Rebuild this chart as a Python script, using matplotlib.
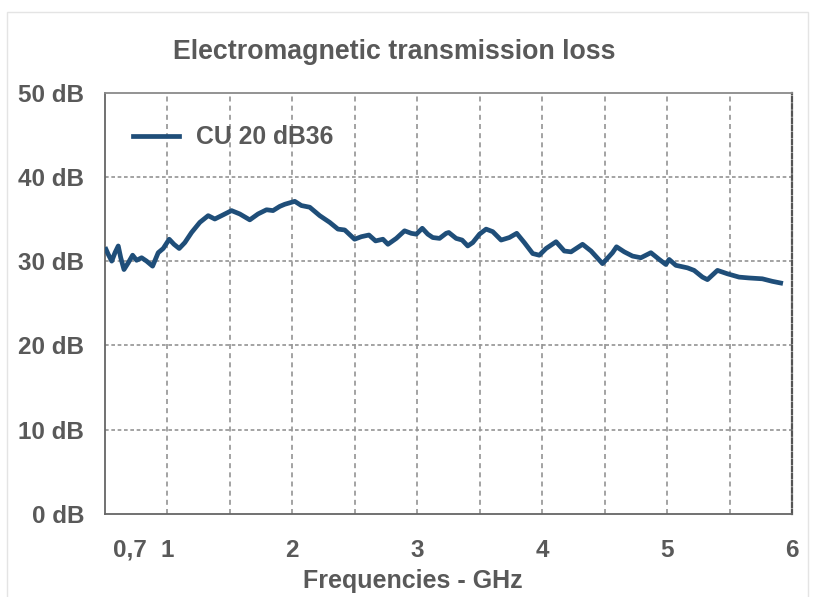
import matplotlib.pyplot as plt
from matplotlib.patches import Rectangle

# ============================================================
# DADOS
# ============================================================

freq_ghz = [0.508, 0.526, 0.554, 0.580, 0.606, 0.626, 0.652, 0.686, 0.721, 0.753,
            0.793, 0.833, 0.881, 0.926, 0.966, 1.014, 1.052, 1.094, 1.139, 1.193,
            1.259, 1.326, 1.379, 1.433, 1.513, 1.579, 1.659, 1.725, 1.793, 1.845,
            1.899, 1.939, 2.019, 2.072, 2.139, 2.219, 2.299, 2.365, 2.419, 2.498,
            2.552, 2.613, 2.666, 2.725, 2.765, 2.832, 2.898, 2.952, 2.992, 3.040,
            3.084, 3.124, 3.178, 3.231, 3.252, 3.311, 3.359, 3.404, 3.444, 3.498,
            3.551, 3.604, 3.671, 3.737, 3.796, 3.857, 3.924, 3.977, 4.031, 4.111,
            4.177, 4.231, 4.323, 4.391, 4.483, 4.563, 4.595, 4.657, 4.723, 4.790,
            4.870, 4.937, 4.990, 5.016, 5.070, 5.163, 5.216, 5.283, 5.323, 5.403,
            5.482, 5.576, 5.655, 5.762, 5.842, 5.909]

perda_db = [31.4, 30.8, 30.0, 31.0, 31.8, 30.4, 29.0, 29.8, 30.7, 30.1,
            30.4, 30.0, 29.4, 31.0, 31.5, 32.6, 32.0, 31.5, 32.2, 33.4,
            34.6, 35.4, 35.0, 35.4, 36.0, 35.6, 34.9, 35.6, 36.1, 36.0,
            36.5, 36.75, 37.1, 36.6, 36.4, 35.4, 34.6, 33.8, 33.7, 32.6,
            32.9, 33.1, 32.4, 32.6, 32.0, 32.7, 33.6, 33.3, 33.2, 33.9,
            33.2, 32.8, 32.7, 33.3, 33.4, 32.7, 32.5, 31.8, 32.2, 33.2,
            33.8, 33.5, 32.5, 32.8, 33.3, 32.2, 30.9, 30.7, 31.5, 32.3,
            31.2, 31.1, 32.0, 31.2, 29.7, 31.0, 31.7, 31.1, 30.6, 30.4,
            31.0, 30.2, 29.6, 30.2, 29.5, 29.2, 28.9, 28.1, 27.8, 28.9,
            28.5, 28.1, 28.0, 27.9, 27.6, 27.4]

ticks_x = [0.7, 1, 2, 3, 4, 5, 6]
rotulos_x = ["0,7", "1", "2", "3", "4", "5", "6"]
ticks_y = [0, 10, 20, 30, 40, 50]
rotulos_y = ["0 dB", "10 dB", "20 dB", "30 dB", "40 dB", "50 dB"]

# ============================================================
# GRÁFICO
# ============================================================

cor_texto = "#595959"
cor_linha = "#1f4e79"

plt.rcParams["font.family"] = ["Liberation Sans", "DejaVu Sans"]
plt.rcParams["font.weight"] = "bold"

fig = plt.figure(figsize=(8.14, 5.97), dpi=100)
ax = fig.add_axes([0.129, 0.1395, 0.844, 0.7052])

# moldura clara em volta da figura
fig.patches.append(Rectangle((7 / 814, -0.01), 801 / 814, 1 - 12 / 597 + 0.01,
                             transform=fig.transFigure, fill=False,
                             edgecolor="#e4e4e4", linewidth=1.0))

ax.plot(freq_ghz, perda_db, color=cor_linha, linewidth=3.4,
        solid_joinstyle="round", label="CU 20 dB36", zorder=3)

ax.set_xlim(0.5, 6)
ax.set_ylim(0, 50)

# grade: linhas verticais a cada 0.5 GHz, horizontais a cada 10 dB
for xg in [1, 1.5, 2, 2.5, 3, 3.5, 4, 4.5, 5, 5.5]:
    ax.axvline(xg, color="#949494", linewidth=1.2, dashes=(3, 2.5), zorder=1)
for yg in [10, 20, 30, 40]:
    ax.axhline(yg, color="#949494", linewidth=1.2, dashes=(2.2, 1.6), zorder=1)

ax.set_xticks(ticks_x)
ax.set_xticklabels(rotulos_x)
ax.set_yticks(ticks_y)
ax.set_yticklabels(rotulos_y)
ax.tick_params(axis="both", length=0, labelsize=17.5, labelcolor=cor_texto)
ax.tick_params(axis="x", pad=18)
ax.tick_params(axis="y", pad=15)

for lado in ["left", "bottom"]:
    ax.spines[lado].set_color("#666666")
    ax.spines[lado].set_linewidth(1.3)
ax.spines["top"].set_color("#8a8a8a")
ax.spines["top"].set_linewidth(1.3)
ax.spines["right"].set_color("#555555")
ax.spines["right"].set_linewidth(1.6)
ax.spines["right"].set_linestyle((0, (2, 1.2)))

ax.legend(loc="upper left", bbox_to_anchor=(0.027, 0.946), frameon=False,
          fontsize=17.8, handlelength=1.85, handletextpad=0.7, borderaxespad=0,
          labelcolor=cor_texto)

fig.text(394.5 / 814, 1 - 52 / 597, "Electromagnetic transmission loss",
         ha="center", va="center", fontsize=19.3, fontweight="bold",
         color=cor_texto)
fig.text(413 / 814, 1 - 581 / 597, "Frequencies - GHz",
         ha="center", va="center", fontsize=18, fontweight="bold",
         color=cor_texto)

fig.savefig("out.png", dpi=100)
